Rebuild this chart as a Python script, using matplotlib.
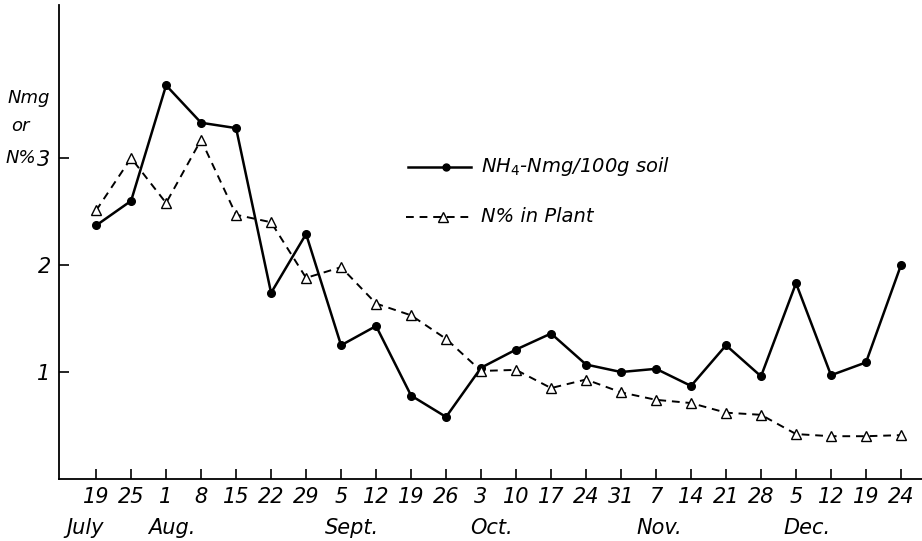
import numpy as np
import matplotlib.pyplot as plt

# Tick labels (day of month) and months
days = ['19', '25', '1', '8', '15', '22', '29', '5', '12', '19', '26', '3',
        '10', '17', '24', '31', '7', '14', '21', '28', '5', '12', '19', '24']
months = ['July', 'Aug.', 'Sept.', 'Oct.', 'Nov.', 'Dec.']
month_pos = [-0.3, 2.15, 7.3, 11.3, 16.1, 20.3]

# NH4-N mg/100g soil
nh4 = [2.37, 2.60, 3.68, 3.33, 3.28, 1.74, 2.29, 1.25, 1.43, 0.78, 0.58, 1.04,
       1.21, 1.36, 1.07, 1.00, 1.03, 0.87, 1.25, 0.96, 1.83, 0.97, 1.09, 2.00]
# N% in plant
n_plant = [2.51, 3.00, 2.58, 3.17, 2.47, 2.40, 1.88, 1.98, 1.64, 1.53, 1.31, 1.01,
           1.02, 0.85, 0.93, 0.81, 0.74, 0.71, 0.62, 0.60, 0.42, 0.40, 0.40, 0.41]

x = np.arange(len(days))
font = dict(family='DejaVu Sans', style='italic', fontweight='light')

fig = plt.figure(figsize=(9.22, 5.41), dpi=100)
ax = fig.add_axes([0.064, 0.1146, 0.936, 0.876])

ax.plot(x, nh4, '-', color='black', lw=1.8, marker='o', ms=5.5)
ax.plot(x, n_plant, '--', color='black', lw=1.4, marker='^', ms=7.5,
        markerfacecolor='white', markeredgecolor='black', dashes=(4, 3))

ax.set_xlim(-1.06, 23.6)
ax.set_ylim(0, 4.43)

for s in ['top', 'right']:
    ax.spines[s].set_visible(False)
ax.spines['left'].set_linewidth(1.3)
ax.spines['bottom'].set_linewidth(1.3)

ax.set_xticks(x)
ax.set_xticklabels(days, fontsize=15, **font)
ax.set_yticks([1, 2, 3])
ax.set_yticklabels(['1', '2', '3'], fontsize=15, **font)
ax.tick_params(direction='in', length=7, width=1.2, pad=6)

# y label stacked beside the 3
fig.text(8 / 922, 1 - 98 / 541, 'Nmg', fontsize=13, ha='left', va='center', **font)
fig.text(11 / 922, 1 - 126 / 541, 'or', fontsize=13, ha='left', va='center', **font)
fig.text(6 / 922, 1 - 158 / 541, 'N%', fontsize=13, ha='left', va='center', **font)

# month labels
for m, p in zip(months, month_pos):
    ax.text(p, -0.46, m, fontsize=15, ha='center', va='center', **font)

# legend drawn by hand
ax.plot([8.9, 10.7], [2.92, 2.92], '-', color='black', lw=1.8)
ax.plot([10.0], [2.92], 'o', color='black', ms=5)
ax.text(11.0, 2.92, r'NH$_4$-Nmg/100g soil', fontsize=14, va='center', **font)
ax.plot([8.85, 10.7], [2.45, 2.45], '--', color='black', lw=1.4, dashes=(4, 3))
ax.plot([9.9], [2.45], '^', ms=7, markerfacecolor='white', markeredgecolor='black')
ax.text(11.0, 2.45, 'N% in Plant', fontsize=14, va='center', **font)

fig.savefig('out.png', dpi=100)
